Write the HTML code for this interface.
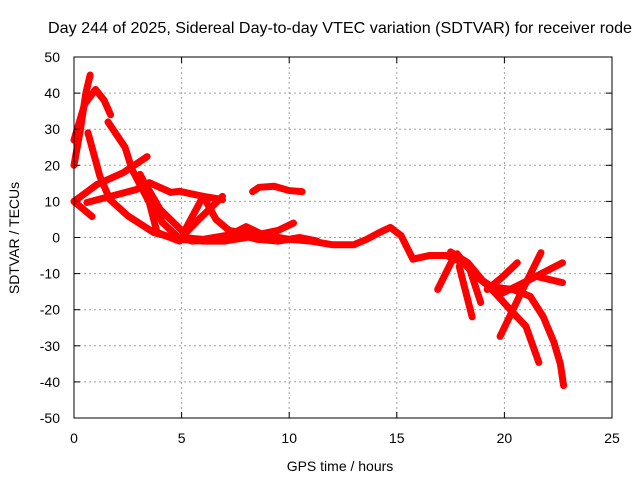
<!DOCTYPE html>
<html><head><meta charset="utf-8"><style>
body{margin:0;background:#fff}
svg{display:block;font-family:"Liberation Sans",sans-serif}
</style></head><body>
<svg width="640" height="480" viewBox="0 0 640 480" xmlns="http://www.w3.org/2000/svg">
<rect width="640" height="480" fill="#fff"/>
<text x="48" y="33" font-size="16" textLength="584" lengthAdjust="spacingAndGlyphs" fill="#000">Day 244 of 2025, Sidereal Day-to-day VTEC variation (SDTVAR) for receiver rode</text>
<g id="grid"></g>
<g id="marks"></g>
<g id="axes"></g>
<text x="340" y="471" font-size="14" text-anchor="middle">GPS time / hours</text>
<text x="19" y="238" font-size="14" text-anchor="middle" transform="rotate(-90 19 238)">SDTVAR / TECUs</text>
</svg>
<script>
const xTicks=[0,5,10,15,20,25];
const yTicks=[50,40,30,20,10,0,-10,-20,-30,-40,-50];
const tracks=[
[[0,20],[0.3,30],[0.55,40],[0.75,45]],
[[0,27],[0.5,37],[1.0,41],[1.4,38],[1.7,34]],
[[0.65,29],[1.2,17],[1.67,10.5],[2.5,6],[3.7,1.4],[4.9,-0.5],[6,-1],[7,-1],[8,0]],
[[1.58,32],[2.37,25],[2.7,18.8],[3.5,9.7],[3.86,1.4],[4.9,-1]],
[[0,10],[1.07,14.7],[2.3,18],[3.4,22.4]],
[[0.6,9.7],[2.9,13.3],[3.5,15.2],[4.5,12.5],[4.9,12.8],[6,11.4],[6.9,10.5]],
[[3.07,17.5],[3.5,12.5],[4.1,4.2],[4.8,0.3],[5.5,-1],[6.5,-0.5]],
[[3.3,15],[4,7.8],[5.1,1.4],[6,11.4]],
[[6,11.4],[6.6,5],[7.2,2],[8,1]],
[[4.9,-0.5],[5.8,5],[6.9,11.4]],
[[0,10],[0.4,8],[0.84,5.8]],
[[8.3,12.7],[8.6,13.9],[9.3,14.2],[10,13],[10.6,12.7]],
[[5,0],[6,-0.5],[7,0.5],[8,1.5],[9,0.5],[10,-0.5],[11,-1],[12,-2],[13,-2],[13.6,-0.5],[14.2,1.4],[14.7,2.8],[15.2,0.5],[15.75,-6],[16.5,-5],[17.3,-5],[18.1,-7],[18.7,-10.8],[19.3,-13.6],[20.4,-14.4],[21.2,-16.3],[21.8,-21.9],[22.3,-29],[22.6,-35],[22.75,-41]],
[[7,0],[8,3],[8.7,1],[9.5,2],[10.2,4]],
[[7.5,1],[8.5,-0.5],[9.5,-1],[10.5,0],[11.3,-1]],
[[19.2,-13],[20.4,-20.8],[21,-24.6],[21.6,-34.6]],
[[21.7,-4.2],[20.8,-15],[19.8,-27.4]],
[[20.6,-7],[19.9,-11],[19.2,-14.4]],
[[22.7,-7],[20.9,-12.5],[19.7,-16]],
[[22.7,-12.5],[21.5,-10.8]],
[[16.9,-14.4],[17.6,-6]],
[[18.5,-22],[17.9,-8]],
[[18.9,-18],[18.4,-9],[17.8,-4.5]],
[[17.5,-4],[18.3,-7],[19,-12],[19.5,-14]]
];
const X0=74,X1=612,Y0=418,Y1=57;
const xs=v=>X0+(v-0)/(25-0)*(X1-X0);
const ys=v=>Y0-(v+50)/100*(Y0-Y1);
const NS="http://www.w3.org/2000/svg";
const mk=(t,a,p)=>{const e=document.createElementNS(NS,t);for(const k in a)e.setAttribute(k,a[k]);p.appendChild(e);return e;};
const grid=document.getElementById('grid'),axes=document.getElementById('axes'),marks=document.getElementById('marks');
xTicks.forEach(t=>{
 const x=xs(t);
 if(t>0&&t<25){const l=mk('line',{x1:x,y1:Y1,x2:x,y2:Y0,stroke:'#a0a0a0','stroke-dasharray':'2,3'},grid);
 
 }
 mk('line',{x1:x,y1:Y0,x2:x,y2:Y0-6,stroke:'#000'},axes);
 mk('line',{x1:x,y1:Y1,x2:x,y2:Y1+6,stroke:'#000'},axes);
 const tx=mk('text',{x:x,y:Y0+25,'font-size':14,'text-anchor':'middle'},axes);
 
 
 tx.textContent=t;
});
yTicks.forEach(t=>{
 const y=ys(t);
 if(t>-50&&t<50){const l=mk('line',{x1:X0,y1:y,x2:X1,y2:y,stroke:'#a0a0a0','stroke-dasharray':'2,3'},grid);
 
 }
 mk('line',{x1:X0,y1:y,x2:X0+6,y2:y,stroke:'#000'},axes);
 mk('line',{x1:X1,y1:y,x2:X1-6,y2:y,stroke:'#000'},axes);
 const tx=mk('text',{x:X0-14,y:y+5,'font-size':14,'text-anchor':'end'},axes);
 
 
 tx.textContent=t;
});
const fr=mk('rect',{x:X0,y:Y1,width:X1-X0,height:Y0-Y1,fill:'none',stroke:'#000'},axes);


tracks.forEach(tr=>{
 const pl=mk('polyline',{points:tr.map(p=>xs(p[0])+','+ys(p[1])).join(' '),fill:'none',stroke:'#ff0000','stroke-width':7,'stroke-linejoin':'round','stroke-linecap':'round'},marks);
 
 
});
</script>
</body></html>
